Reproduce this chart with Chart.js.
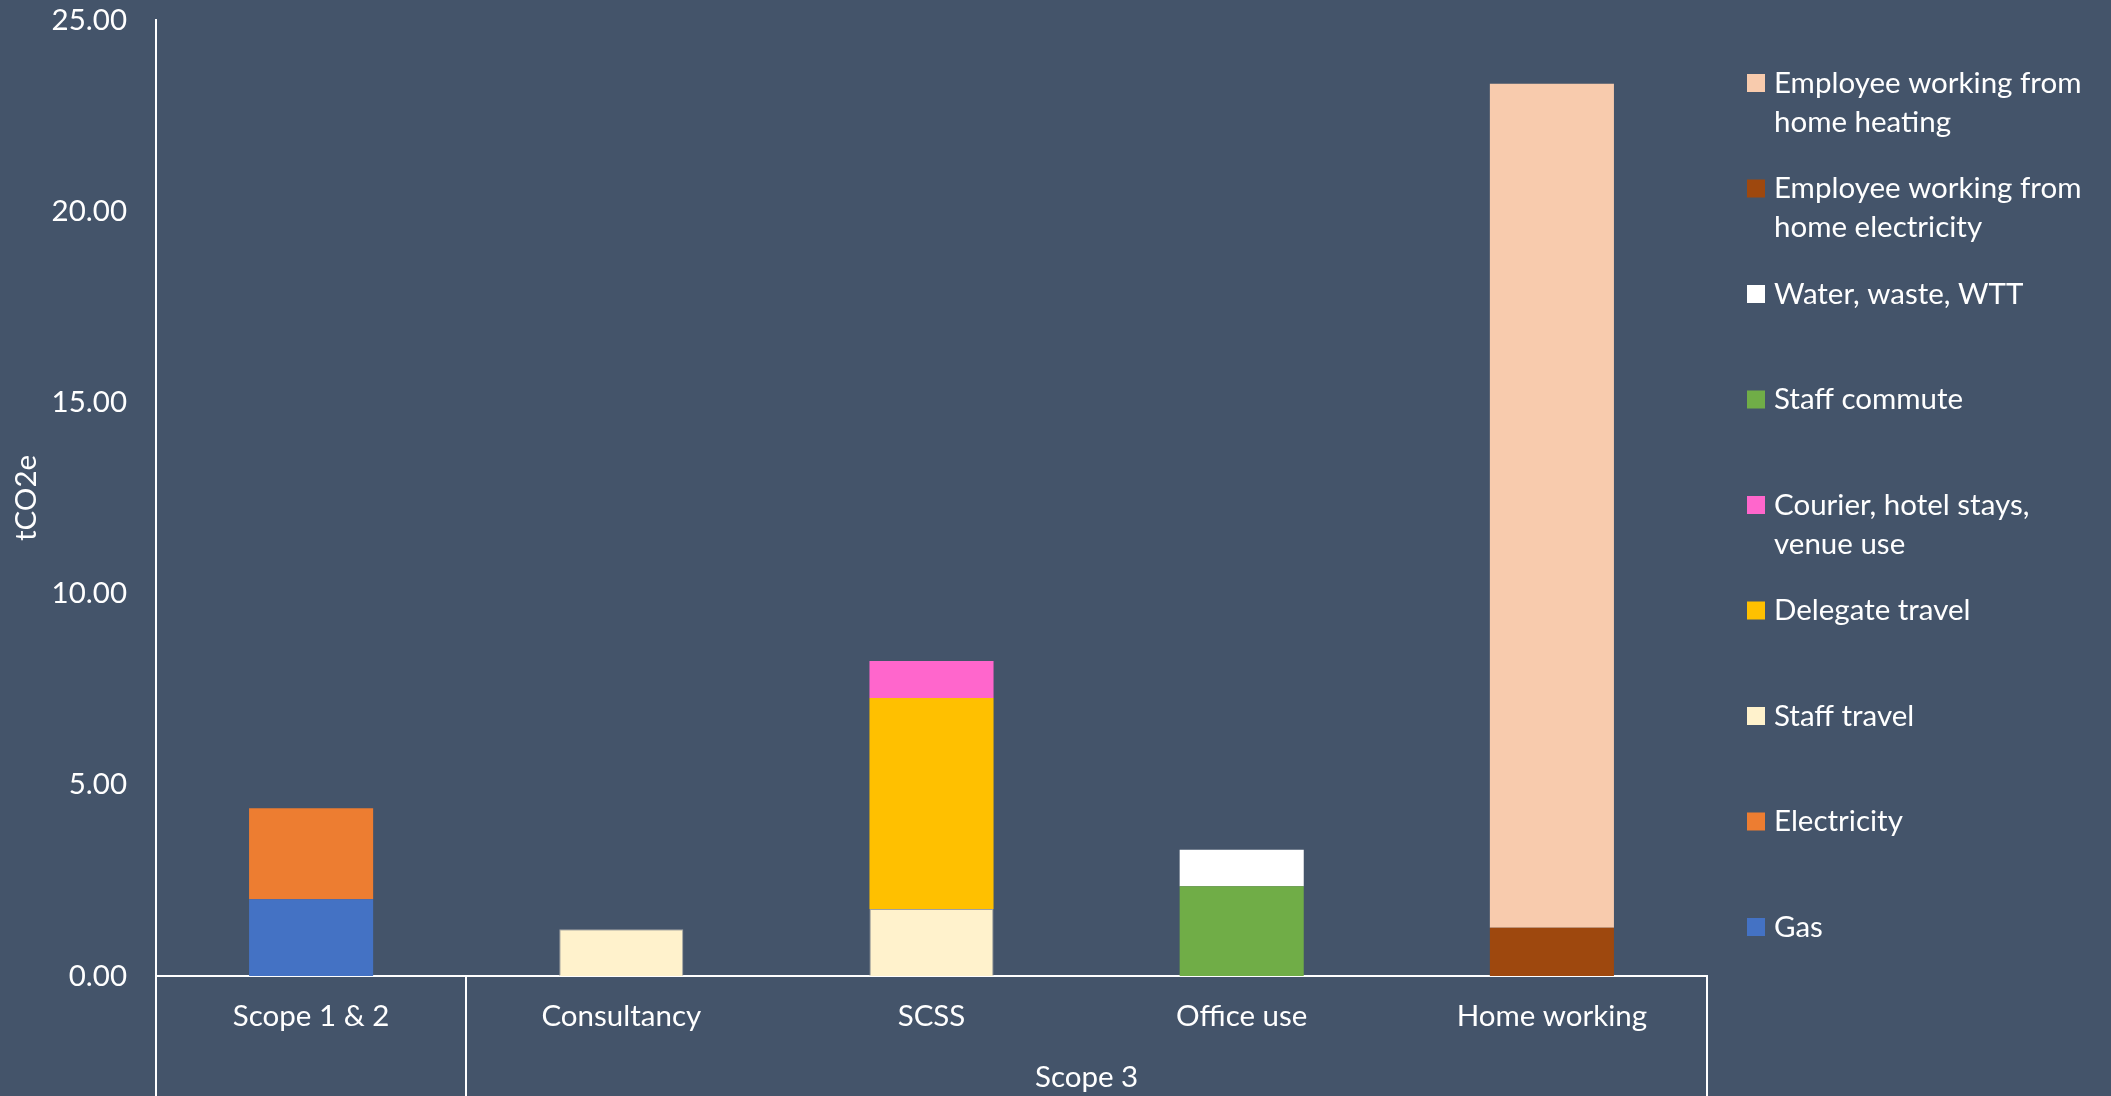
<!DOCTYPE html>
<html><head><meta charset="utf-8">
<script src="https://cdn.jsdelivr.net/npm/chart.js@4.4.0/dist/chart.umd.min.js"></script>
<style>html,body{margin:0;padding:0;background:#44546A;overflow:hidden}</style>
</head><body>
<canvas id="c" width="2111" height="1096" style="display:block;width:2111px;height:1096px"></canvas>
<script>
// ---- data ----
const categories = ['Scope 1 & 2', 'Consultancy', 'SCSS', 'Office use', 'Home working'];
const groupLabel = 'Scope 3';
const groupFrom = 1, groupTo = 4;
const yTicks = [0, 5, 10, 15, 20, 25];

const gas            = [2.01, null, null, null, null];
const electricity    = [2.38, null, null, null, null];
const staffTravel    = [null, 1.22, 1.75, null, null];
const delegateTravel = [null, null, 5.52, null, null];
const courier        = [null, null, 0.97, null, null];
const staffCommute   = [null, null, null, 2.35, null];
const waterWaste     = [null, null, null, 0.95, null];
const homeElectric   = [null, null, null, null, 1.26];
const homeHeating    = [null, null, null, null, 22.07];

const seriesNames = [
  ['Gas'], ['Electricity'], ['Staff travel'], ['Delegate travel'],
  ['Courier, hotel stays,', 'venue use'], ['Staff commute'], ['Water, waste, WTT'],
  ['Employee working from', 'home electricity'], ['Employee working from', 'home heating']
];
const seriesValues = [gas, electricity, staffTravel, delegateTravel, courier, staffCommute, waterWaste, homeElectric, homeHeating];
const seriesColors = ['#4472C4', '#ED7D31', '#FFF2CC', '#FFC000', '#FF66CC', '#70AD47', '#FFFFFF', '#9E480E', '#F8CBAD'];

const FONT = 'Lato';
const FS = 29.5;
const TXT = '#FFFFFF';
const BG = '#44546A';

const datasets = seriesValues.map((vals, i) => ({
  label: seriesNames[i].join(' '),
  data: vals,
  backgroundColor: seriesColors[i],
  borderColor: i === 2 ? 'rgba(170,170,170,0.9)' : seriesColors[i],
  borderWidth: i === 2 ? 1 : 0,
  barPercentage: 0.4,
  categoryPercentage: 1.0
}));

const customPlugin = {
  id: 'custom',
  beforeDraw(chart) {
    const ctx = chart.ctx;
    ctx.save();
    ctx.fillStyle = BG;
    ctx.fillRect(0, 0, chart.width, chart.height);
    ctx.restore();
  },
  afterDraw(chart) {
    const ctx = chart.ctx;
    const x = chart.scales.x;
    const area = chart.chartArea;
    ctx.save();
    // category separators for multi-level axis
    const b01 = (x.getPixelForValue(0) + x.getPixelForValue(1)) / 2;
    const seps = [area.left, b01, area.right];
    ctx.strokeStyle = '#FFFFFF';
    ctx.lineWidth = 2;
    seps.forEach(px => {
      ctx.beginPath();
      ctx.moveTo(Math.round(px), area.bottom);
      ctx.lineTo(Math.round(px), chart.height);
      ctx.stroke();
    });
    // group label
    const gx0 = (x.getPixelForValue(groupFrom) + x.getPixelForValue(groupFrom - 1)) / 2;
    const gx1 = area.right;
    ctx.fillStyle = TXT;
    ctx.font = FS + 'px ' + FONT;
    ctx.textAlign = 'center';
    ctx.textBaseline = 'middle';
    ctx.fillText(groupLabel, (gx0 + gx1) / 2, area.bottom + 101);

    // legend (reverse order like the reference)
    const lx = 1747, tx = 1774, y0 = 83, step = 105.5, lh = 39, sq = 18;
    ctx.textAlign = 'left';
    for (let k = 0; k < seriesNames.length; k++) {
      const i = seriesNames.length - 1 - k;
      const cy = y0 + k * step;
      ctx.fillStyle = seriesColors[i];
      ctx.fillRect(lx, cy - sq / 2, sq, sq);
      ctx.fillStyle = TXT;
      seriesNames[i].forEach((line, j) => ctx.fillText(line, tx, cy + j * lh));
    }
    ctx.restore();
  }
};

new Chart(document.getElementById('c'), {
  type: 'bar',
  data: { labels: categories, datasets },
  plugins: [customPlugin],
  options: {
    responsive: false,
    animation: false,
    layout: { padding: { left: 0, top: 20, right: 404, bottom: 0 } },
    plugins: { legend: { display: false }, tooltip: { enabled: false } },
    scales: {
      x: {
        stacked: true,
        grid: { display: false, drawTicks: false },
        border: { display: true, color: '#FFFFFF', width: 2 },
        ticks: { color: TXT, font: { family: FONT, size: FS }, padding: 23, maxRotation: 0 },
        afterFit(s) { s.height = 120; s.paddingLeft = 0; s.paddingRight = 0; }
      },
      y: {
        stacked: true,
        min: 0, max: 25,
        afterBuildTicks(s) { s.ticks = yTicks.map(v => ({ value: v })); },
        grid: { display: false, drawTicks: false },
        border: { display: true, color: '#FFFFFF', width: 2 },
        ticks: { color: TXT, font: { family: FONT, size: FS }, padding: 29, callback: v => Number(v).toFixed(2) },
        title: { display: true, text: 'tCO2e', color: TXT, font: { family: FONT, size: FS }, padding: { top: 9, bottom: 0 } },
        afterFit(s) { s.width = 156; s.paddingTop = 0; s.paddingBottom = 0; }
      }
    }
  }
});
</script>
</body></html>
